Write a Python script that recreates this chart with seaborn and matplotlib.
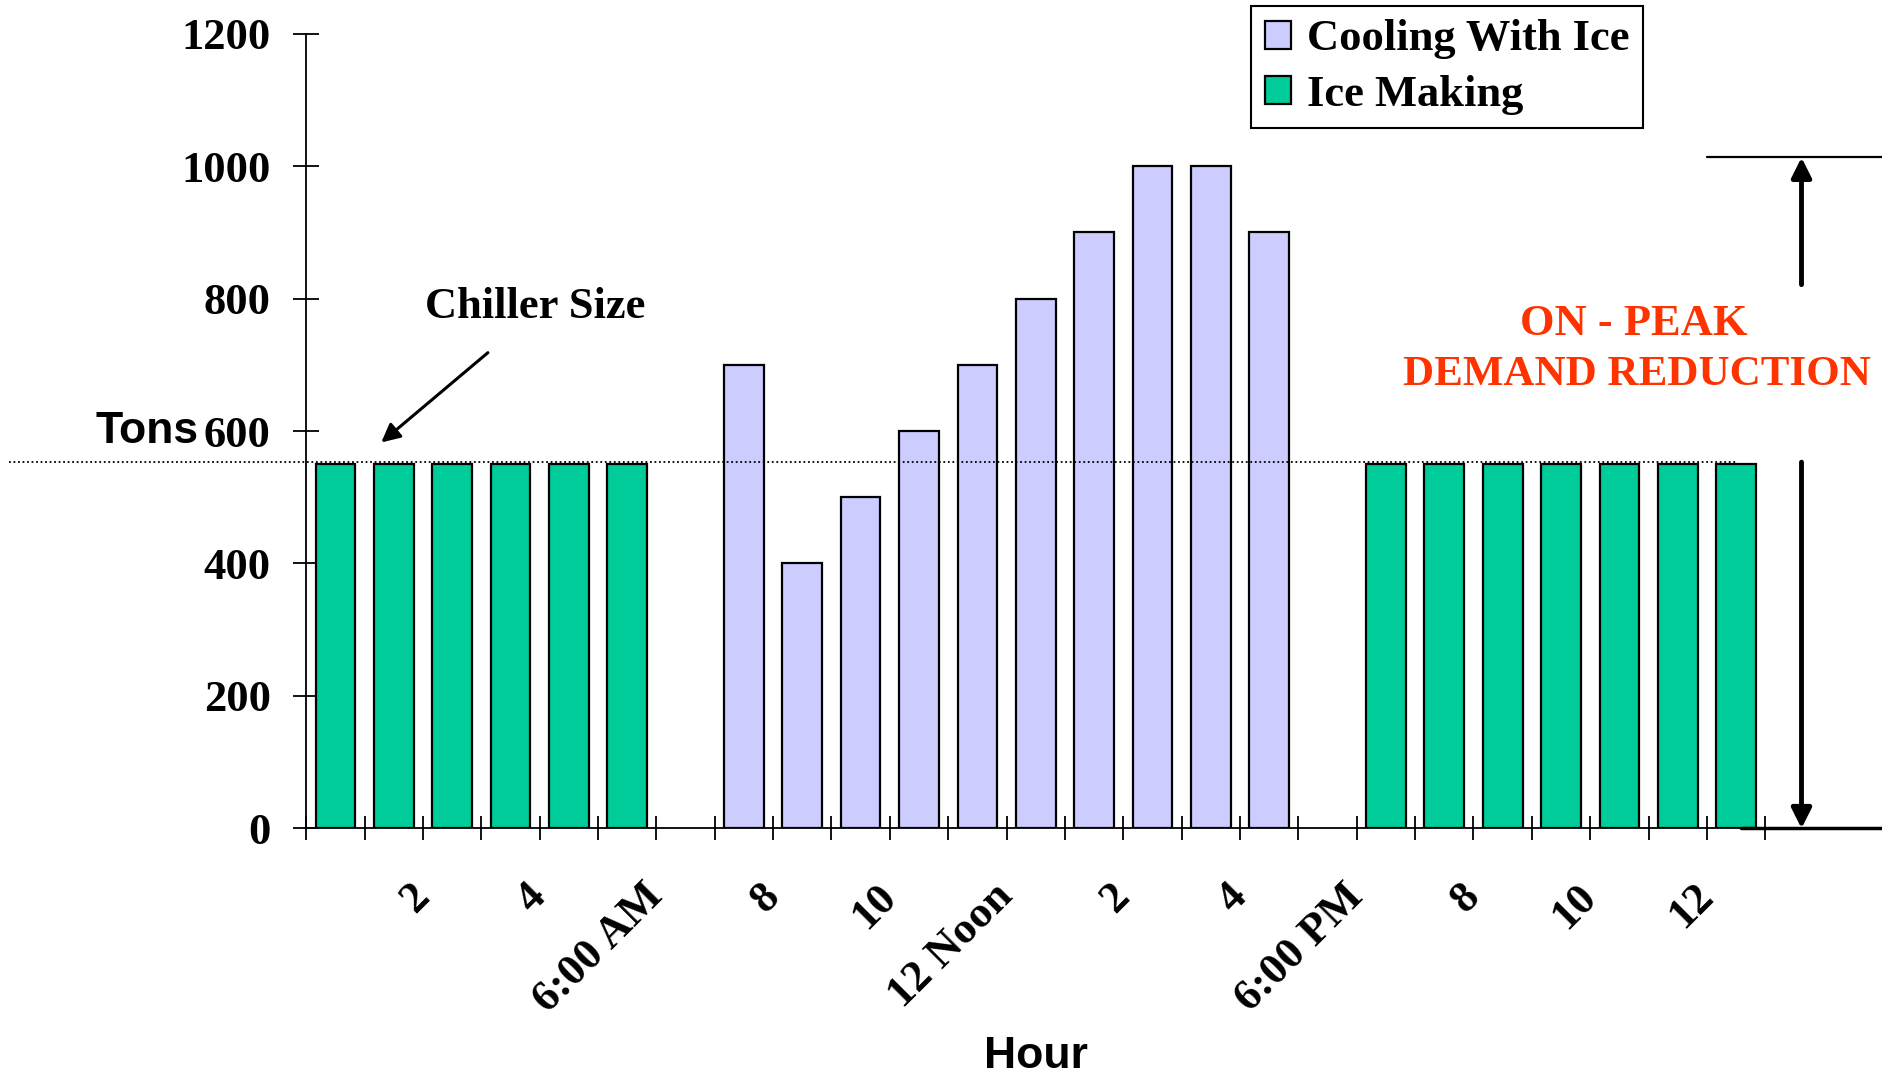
import matplotlib
matplotlib.use("Agg")
import matplotlib.pyplot as plt
import seaborn as sns
import pandas as pd

# ---- data ----
slots = list(range(25))
ice_making_slots = [0, 1, 2, 3, 4, 5, 18, 19, 20, 21, 22, 23, 24]
ice_making_tons = [550, 550, 550, 550, 550, 550, 550, 550, 550, 550, 550, 550, 550]
cooling_slots = [7, 8, 9, 10, 11, 12, 13, 14, 15, 16]
cooling_tons = [700, 400, 500, 600, 700, 800, 900, 1000, 1000, 900]
series_names = ["Cooling With Ice", "Ice Making"]
tick_positions = [2, 4, 6, 8, 10, 12, 14, 16, 18, 20, 22, 24]
tick_labels = ["2", "4", "6:00 AM", "8", "10", "12 Noon", "2", "4", "6:00 PM", "8", "10", "12"]
y_ticks = [0, 200, 400, 600, 800, 1000, 1200]
chiller_size = 553
peak_level = 1013

df = pd.concat([
    pd.DataFrame({"slot": cooling_slots, "tons": cooling_tons, "mode": series_names[0]}),
    pd.DataFrame({"slot": ice_making_slots, "tons": ice_making_tons, "mode": series_names[1]}),
], ignore_index=True)

sns.set_theme(style="white")
plt.rcParams["font.family"] = ["Liberation Serif", "DejaVu Serif"]
plt.rcParams["text.color"] = "black"
plt.rcParams["axes.labelcolor"] = "black"
plt.rcParams["xtick.color"] = "black"
plt.rcParams["ytick.color"] = "black"

LAV = "#CCCCFF"
GREEN = "#00CC99"
RED = "#FF3300"
FS = 32

fig = plt.figure(figsize=(18.83, 10.77), dpi=100)
ax = fig.add_axes([0.1626, 0.2308, 0.9375 - 0.1626, 0.9688 - 0.2308])

sns.barplot(data=df, x="slot", y="tons", hue="mode", hue_order=series_names,
            palette=[LAV, GREEN], saturation=1, dodge=False, native_scale=True, width=0.68,
            edgecolor="black", linewidth=1.6, ax=ax)

ax.set_xlim(-0.5, 24.5)
ax.set_ylim(0, 1200)
for s in ["top", "right"]:
    ax.spines[s].set_visible(False)
for s in ["left", "bottom"]:
    ax.spines[s].set_color("black")
    ax.spines[s].set_linewidth(1.3)

# y axis
ax.set_yticks(y_ticks)
ax.set_yticklabels([str(v) for v in y_ticks], fontsize=FS, fontweight="bold")
ax.tick_params(axis="y", direction="inout", length=19, width=1.3, pad=16, left=True, colors="black")

# x axis: ticks at every slot boundary, labels at even hours
label_map = dict(zip(tick_positions, tick_labels))
bounds = list(range(26))
ax.set_xticks([b - 0.5 for b in bounds])
ax.set_xticklabels([label_map.get(b, "") for b in bounds], fontsize=FS, fontweight="bold",
                   rotation=45, ha="right", va="center", rotation_mode="anchor")
ax.tick_params(axis="x", which="major", direction="inout", length=17, width=1.3,
               bottom=True, pad=36, colors="black")

ax.set_xlabel("Hour", fontsize=FS, fontweight="bold", family=["Liberation Sans", "DejaVu Sans"])
ax.xaxis.set_label_coords(0.5, -0.287)
ax.xaxis.label.set_va("center")
ax.set_ylabel("Tons", fontsize=FS, fontweight="bold", family=["Liberation Sans", "DejaVu Sans"], rotation=0)
ax.yaxis.set_label_coords(-0.074, 0.5)
ax.yaxis.label.set_ha("right")
ax.yaxis.label.set_va("center")

# legend
handles, labels = ax.get_legend_handles_labels()
if ax.get_legend() is not None:
    ax.get_legend().remove()
leg = fig.legend(handles, labels, loc="upper left", bbox_to_anchor=(0.6645, 0.9944),
                 bbox_transform=fig.transFigure, fancybox=False, frameon=True,
                 edgecolor="black", framealpha=1, prop={"size": FS, "weight": "bold"},
                 handlelength=0.6, handleheight=0.6, handletextpad=0.35,
                 borderpad=0.3, labelspacing=0.35, borderaxespad=0)
leg.get_frame().set_linewidth(1.5)

# chiller size line and annotation
ax.plot([-5.6, 24.0], [chiller_size, chiller_size], linestyle=(0, (1, 1.5)), color="black",
        linewidth=1.3, clip_on=False, zorder=5)
ax.annotate("", xy=(0.75, 580), xytext=(2.65, 721), annotation_clip=False,
            arrowprops=dict(arrowstyle="-|>", color="black", lw=2.2, mutation_scale=28))
ax.text(3.43, 787, "Chiller Size", fontsize=FS, fontweight="bold", ha="center", va="center")

# on-peak demand reduction
ax.plot([23.5, 26.6], [peak_level, peak_level], color="black", lw=1.6, clip_on=False)
ax.plot([24.09, 26.6], [0, 0], color="black", lw=2.5, clip_on=False)
ax.annotate("", xy=(25.12, peak_level), xytext=(25.12, 821), annotation_clip=False,
            arrowprops=dict(arrowstyle="-|>", color="black", lw=3.5, mutation_scale=30, shrinkA=0, shrinkB=0))
ax.annotate("", xy=(25.12, 0), xytext=(25.12, chiller_size), annotation_clip=False,
            arrowprops=dict(arrowstyle="-|>", color="black", lw=3.5, mutation_scale=30, shrinkA=0, shrinkB=0))
ax.text(22.24, 761, "ON - PEAK", fontsize=FS, fontweight="bold", color=RED, ha="center", va="center")
ax.text(22.3, 685, "DEMAND REDUCTION", fontsize=31, fontweight="bold", color=RED, ha="center", va="center")

fig.savefig("out.png", dpi=100)
